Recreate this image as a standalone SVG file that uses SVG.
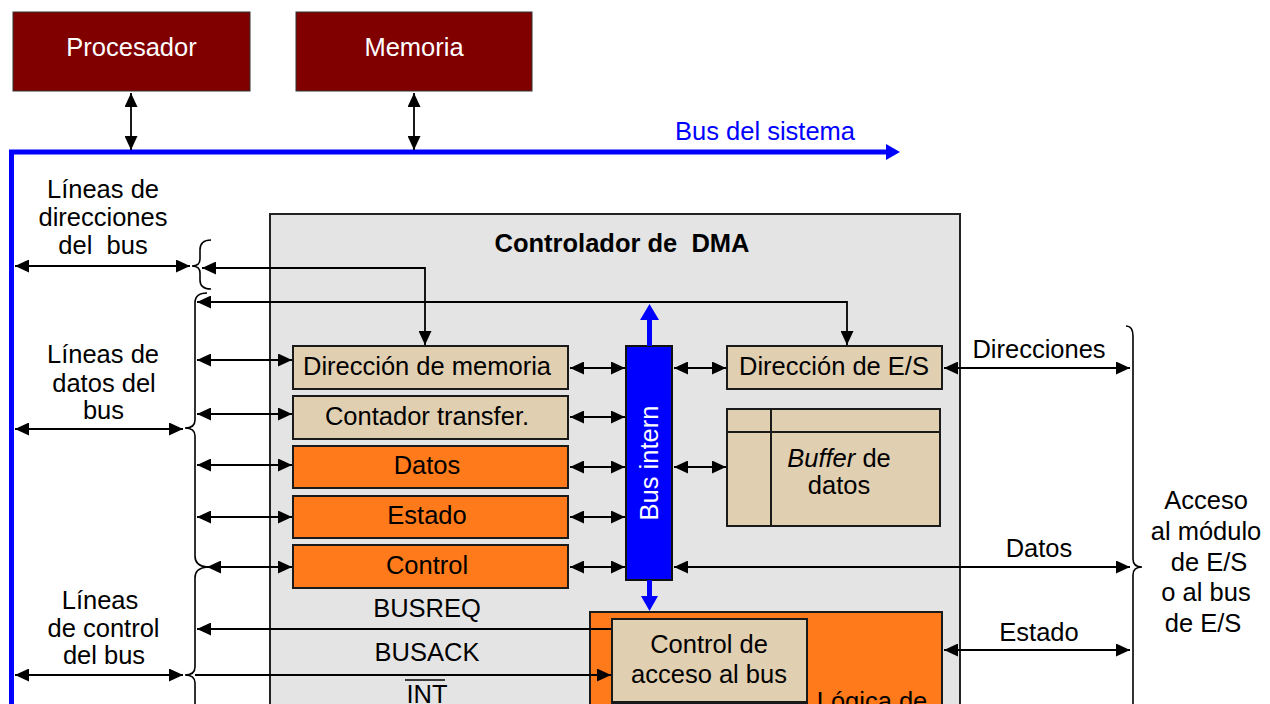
<svg xmlns="http://www.w3.org/2000/svg" width="1270" height="704" viewBox="0 0 1270 704">
<style>
.t{font-family:"Liberation Sans",Arial,sans-serif;font-size:25.5px;fill:#000;white-space:pre}
.w{fill:#fff}
.b{fill:#0000ff}
.c{text-anchor:middle}
.tb{font-weight:bold}
.tan{fill:#e0cfb0;stroke:#1a1a1a;stroke-width:2}
.org{fill:#ff7a1a;stroke:#1a1a1a;stroke-width:2}
.ln{fill:none;stroke:#000;stroke-width:1.8}
.br{fill:none;stroke:#000;stroke-width:1.6}
.ar{marker-end:url(#ah)}
.da{marker-start:url(#ah);marker-end:url(#ah)}
</style>
<defs>
<marker id="ah" markerUnits="userSpaceOnUse" viewBox="0 0 14 13" markerWidth="14" markerHeight="13" refX="14" refY="6.5" orient="auto-start-reverse"><path d="M0,0 L14,6.5 L0,13 z" fill="#000"/></marker>
</defs>
<rect width="1270" height="704" fill="#fff"/>

<g id="procesador">
<rect x="13" y="12" width="237" height="79" fill="#800000" stroke="#333" stroke-width="1"/>
<text class="t w c" x="131.5" y="56">Procesador</text>
</g>
<g id="memoria">
<rect x="296" y="12" width="236" height="79" fill="#800000" stroke="#333" stroke-width="1"/>
<text class="t w c" x="414" y="56">Memoria</text>
</g>

<g id="bus-sistema">
<path d="M11.5,704 V152 H888" fill="none" stroke="#0000ff" stroke-width="5"/>
<path d="M886,144 L900,152 L886,160 z" fill="#0000ff"/>
<text class="t b" x="675" y="140">Bus del sistema</text>
</g>

<g id="dma">
<rect x="270" y="214" width="690" height="510" fill="#e4e4e4" stroke="#222" stroke-width="2"/>
<text class="t tb c" x="622" y="252">Controlador de  DMA</text>
</g>

<g id="labels-left">
<text class="t c" x="103" y="198">Líneas de</text>
<text class="t c" x="103" y="226">direcciones</text>
<text class="t c" x="103" y="254">del  bus</text>
<text class="t c" x="103" y="363">Líneas de</text>
<text class="t c" x="104" y="392">datos del</text>
<text class="t c" x="103.5" y="419">bus</text>
<text class="t c" x="100" y="609">Líneas</text>
<text class="t c" x="103.5" y="637">de control</text>
<text class="t c" x="104" y="664">del bus</text>
</g>

<g id="reg-dir-mem"><rect class="tan" x="293" y="346" width="275" height="43"/><text class="t c" x="427" y="375">Dirección de memoria</text></g>
<g id="reg-contador"><rect class="tan" x="293" y="396" width="275" height="43"/><text class="t c" x="427" y="425">Contador transfer.</text></g>
<g id="reg-datos"><rect class="org" x="293" y="446" width="275" height="42"/><text class="t c" x="427" y="474">Datos</text></g>
<g id="reg-estado"><rect class="org" x="293" y="496" width="275" height="42"/><text class="t c" x="427" y="524">Estado</text></g>
<g id="reg-control"><rect class="org" x="293" y="545" width="275" height="43"/><text class="t c" x="427" y="574">Control</text></g>

<g id="bus-intern">
<rect x="626" y="346" width="46" height="234" fill="#0000ff" stroke="#111" stroke-width="2"/>
<text class="t w c" transform="translate(658,463) rotate(-90)">Bus intern</text>
<path d="M649.5,346 V320" stroke="#0000ff" stroke-width="5"/>
<path d="M640,320 L649.5,304 L659,320 z" fill="#0000ff"/>
<path d="M649.5,580 V597" stroke="#0000ff" stroke-width="5"/>
<path d="M641,596 L649.5,611 L658,596 z" fill="#0000ff"/>
</g>

<g id="dir-es"><rect class="tan" x="727" y="346" width="215" height="43"/><text class="t c" x="834" y="375">Dirección de E/S</text></g>

<g id="buffer">
<rect class="tan" x="727" y="409" width="213" height="117"/>
<path d="M727,432 H940 M771,409 V526" stroke="#1a1a1a" stroke-width="2"/>
<text class="t c" x="839" y="467"><tspan font-style="italic">Buffer</tspan> de</text>
<text class="t c" x="839" y="494">datos</text>
</g>

<g id="logica">
<rect class="org" x="590" y="612" width="352" height="130"/>
<text class="t c" x="872" y="710">Lógica de</text>
</g>
<g id="control-acceso">
<rect class="tan" x="612" y="619" width="195" height="83"/>
<text class="t c" x="709" y="653">Control de</text>
<text class="t c" x="709" y="683">acceso al bus</text>
<rect class="tan" x="612" y="703" width="195" height="40"/>
</g>

<g id="labels-right">
<text class="t c" x="1039" y="358">Direcciones</text>
<text class="t c" x="1039" y="557">Datos</text>
<text class="t c" x="1039" y="641">Estado</text>
<text class="t c" x="1206" y="509">Acceso</text>
<text class="t c" x="1206" y="540">al módulo</text>
<text class="t c" x="1209" y="571">de E/S</text>
<text class="t c" x="1206" y="601">o al bus</text>
<text class="t c" x="1203" y="632">de E/S</text>
<text class="t c" x="427" y="617">BUSREQ</text>
<text class="t c" x="427" y="661">BUSACK</text>
<text class="t c" x="427" y="703">INT</text>
<path d="M405,680 H445" stroke="#000" stroke-width="1.6"/>
</g>

<g id="connectors">
<line class="ln da" x1="15" y1="266" x2="190" y2="266"/>
<line class="ln da" x1="131" y1="93" x2="131" y2="150"/>
<line class="ln da" x1="414" y1="93" x2="414" y2="150"/>
<line class="ln da" x1="15" y1="429" x2="183" y2="429"/>
<line class="ln da" x1="15" y1="675" x2="183" y2="675"/>
<path class="br" d="M211,240 Q200,240 200,250 V259 Q200,266 192,266 Q200,266 200,273 V280 Q200,289 211,289"/>
<path class="br" d="M207,293 Q195,293 195,303 V420 Q195,428 185,428 Q195,428 195,436 V556 Q195,566 207,567"/>
<path class="br" d="M207,567 Q195,568 195,578 V667 Q195,675 185,675 Q195,675 195,683 V710"/>
<path class="br" d="M1126,326 Q1133,326 1133,336 V559 Q1133,567 1142,567 Q1133,567 1133,575 V710"/>
<polyline class="ln" points="202,268 425,268 425,345" marker-start="url(#ah)" marker-end="url(#ah)"/>
<polyline class="ln" points="197,302 847,302 847,345" marker-start="url(#ah)" marker-end="url(#ah)"/>
<line class="ln da" x1="197" y1="360" x2="292" y2="360"/>
<line class="ln da" x1="197" y1="414" x2="292" y2="414"/>
<line class="ln da" x1="197" y1="465" x2="292" y2="465"/>
<line class="ln da" x1="197" y1="517" x2="292" y2="517"/>
<line class="ln da" x1="207" y1="567" x2="292" y2="567"/>
<line class="ln da" x1="570" y1="368" x2="625" y2="368"/>
<line class="ln da" x1="570" y1="417" x2="625" y2="417"/>
<line class="ln da" x1="570" y1="467" x2="625" y2="467"/>
<line class="ln da" x1="570" y1="517" x2="625" y2="517"/>
<line class="ln da" x1="570" y1="567" x2="625" y2="567"/>
<line class="ln da" x1="674" y1="368" x2="726" y2="368"/>
<line class="ln da" x1="674" y1="467" x2="726" y2="467"/>
<line class="ln da" x1="674" y1="567" x2="1130" y2="567"/>
<line class="ln da" x1="944" y1="368" x2="1130" y2="368"/>
<line class="ln da" x1="944" y1="650" x2="1130" y2="650"/>
<line class="ln ar" x1="611" y1="629" x2="197" y2="629"/>
<line class="ln ar" x1="195" y1="675" x2="611" y2="675"/>
</g>
</svg>
